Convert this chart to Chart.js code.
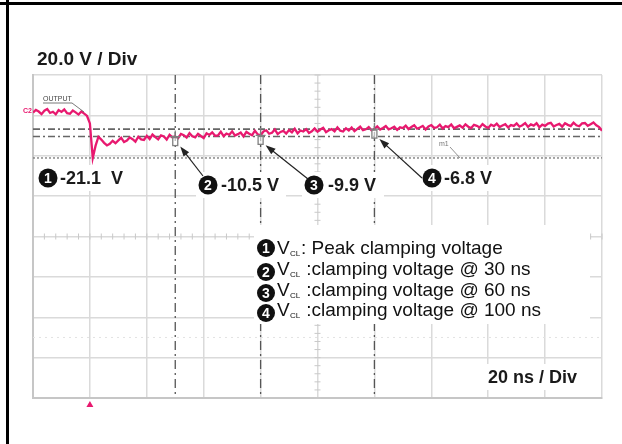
<!DOCTYPE html>
<html>
<head>
<meta charset="utf-8">
<script src="https://cdn.jsdelivr.net/npm/chart.js@4.4.0/dist/chart.umd.min.js"></script>
<style>
  html, body { margin: 0; padding: 0; background: #fff; }
  canvas { display: block; }
</style>
</head>
<body>
<canvas id="scope" width="622" height="444"></canvas>
<script>
// ── scope settings (20 ns / div, 20 V / div) ──
const timeMinNs = -20, timeMaxNs = 180, timeDivNs = 20;
const voltMin = -140, voltMax = 20, voltDiv = 20;

// OUTPUT trace, one sample per ns starting at -20 ns
const sampleStartNs = -20;
const sampleStepNs  = 1;
const outputVolts = [
  1.4, 2.7, 1.9, 0.6, 2.3, 3.1, 1.2, 1.8, 0.5, 2.6,
  1.7, 2.9, 1.1, 0.8, 2.4, 1.5, 0.4, 1.9, 0.9, -0.3,
  -4.0, -21.1, -15.0, -10.6, -12.0, -13.6, -14.9, -14.1, -12.6, -13.8,
  -12.4, -11.1, -13.2, -12.5, -10.9, -11.8, -13.0, -10.6, -11.9, -12.2,
  -10.1, -11.7, -9.5, -10.8, -11.9, -9.9, -10.4, -12.0, -9.6, -10.9,
  -10.5, -11.3, -9.2, -9.8, -11.0, -8.8, -10.4, -10.9, -9.1, -10.2,
  -11.2, -8.9, -9.7, -8.4, -10.1, -9.9, -8.1, -10.3, -9.0, -9.6,
  -7.9, -10.0, -9.3, -8.5, -10.4, -8.2, -9.1, -9.8, -7.6, -9.4,
  -9.9, -8.0, -7.4, -9.1, -8.6, -7.0, -9.3, -8.2, -7.7, -9.0,
  -7.3, -8.4, -6.6, -8.9, -7.5, -8.0, -6.8, -8.7, -7.9, -6.5,
  -8.1, -7.0, -6.2, -8.3, -7.4, -6.8, -7.9, -5.9, -7.6, -8.0,
  -6.4, -7.5, -6.0, -7.8, -6.7, -5.6, -7.3, -6.9, -5.8, -7.4,
  -6.8, -5.5, -7.0, -6.2, -5.3, -6.9, -6.4, -5.6, -7.2, -5.9,
  -6.3, -5.1, -6.8, -5.7, -4.9, -6.6, -6.0, -5.2, -7.0, -5.5,
  -4.8, -6.2, -5.9, -4.6, -6.5, -5.3, -5.8, -4.5, -6.4, -5.7,
  -5.0, -6.1, -4.4, -5.6, -6.3, -4.7, -5.2, -6.0, -4.3, -5.5,
  -6.2, -4.6, -5.3, -4.1, -5.8, -5.0, -4.4, -6.0, -4.8, -5.2,
  -4.0, -5.6, -4.9, -3.8, -5.7, -4.5, -5.1, -3.9, -5.9, -4.6,
  -5.2, -4.1, -3.7, -5.5, -4.8, -4.2, -5.6, -3.9, -4.7, -5.3,
  -3.6, -4.9, -5.4, -4.0, -3.8, -5.2, -4.4, -3.5, -4.9, -5.8,
  -7.6
];

// cursors / measurements
const peakVolts        = -21.1;
const cursorTimesNs    = [30, 60, 100];
const cursorVolts      = [-10.5, -9.9, -6.8];
const cursorLevelVolts = [-6.8, -10.5];
const otherRefVolts    = -110;
const triggerNs        = 0;
const measureTexts = ['-21.1  V', '-10.5 V', '-9.9 V', '-6.8 V'];
const legendTexts  = [': Peak clamping voltage', ' :clamping voltage @ 30 ns',
                      ' :clamping voltage @ 60 ns', ' :clamping voltage @ 100 ns'];

// ── layout only (pixels) ──
const FONT = '"Liberation Sans", Arial, sans-serif';
const labelPos = [
  { cx: 48,  cy: 178, tx: 60,  box: [36, 165, 96, 26] },
  { cx: 208, cy: 185, tx: 221, box: [196, 172, 90, 26] },
  { cx: 314, cy: 185, tx: 328, box: [302, 172, 82, 26] },
  { cx: 432, cy: 178, tx: 444, box: [420, 165, 80, 26] },
];
const arrowTails = [[203, 176], [308, 179], [422, 178]];
const legendRowsY = [248, 269, 290, 310];

const tracePoints = outputVolts.map((v, i) => ({ x: sampleStartNs + i * sampleStepNs, y: v }));

function circled(ctx, n, cx, cy, r) {
  ctx.beginPath();
  ctx.arc(cx, cy, r, 0, Math.PI * 2);
  ctx.fillStyle = '#111';
  ctx.fill();
  ctx.fillStyle = '#fff';
  ctx.font = 'bold ' + Math.round(r * 1.5) + 'px ' + FONT;
  ctx.textAlign = 'center';
  ctx.textBaseline = 'middle';
  ctx.fillText(String(n), cx, cy + 1);
}

function arrow(ctx, x1, y1, x2, y2) {
  const a = Math.atan2(y2 - y1, x2 - x1);
  ctx.strokeStyle = '#222';
  ctx.fillStyle = '#222';
  ctx.lineWidth = 1.2;
  ctx.setLineDash([]);
  ctx.beginPath();
  ctx.moveTo(x1, y1);
  ctx.lineTo(x2 - 6 * Math.cos(a), y2 - 6 * Math.sin(a));
  ctx.stroke();
  ctx.beginPath();
  ctx.moveTo(x2, y2);
  ctx.lineTo(x2 - 10 * Math.cos(a) + 3.5 * Math.sin(a), y2 - 10 * Math.sin(a) - 3.5 * Math.cos(a));
  ctx.lineTo(x2 - 10 * Math.cos(a) - 3.5 * Math.sin(a), y2 - 10 * Math.sin(a) + 3.5 * Math.cos(a));
  ctx.closePath();
  ctx.fill();
}

const scopeOverlay = {
  id: 'scopeOverlay',
  beforeDatasetsDraw(chart) {
    const { ctx, chartArea: ca, scales: { x, y } } = chart;
    ctx.save();
    // minor ticks on the centre axes
    const cx = x.getPixelForValue((timeMinNs + timeMaxNs) / 2);
    const cy = y.getPixelForValue((voltMin + voltMax) / 2);
    ctx.strokeStyle = '#c9c9c9';
    ctx.lineWidth = 1;
    for (let t = timeMinNs; t <= timeMaxNs; t += timeDivNs / 5) {
      const px = x.getPixelForValue(t);
      ctx.beginPath(); ctx.moveTo(px, cy - 3); ctx.lineTo(px, cy + 3); ctx.stroke();
    }
    for (let v = voltMin; v <= voltMax; v += voltDiv / 5) {
      const py = y.getPixelForValue(v);
      ctx.beginPath(); ctx.moveTo(cx - 3, py); ctx.lineTo(cx + 3, py); ctx.stroke();
    }
    // faint reference of the other channel
    ctx.strokeStyle = '#e2e2e2';
    ctx.setLineDash([2, 4]);
    let py = y.getPixelForValue(otherRefVolts);
    ctx.beginPath(); ctx.moveTo(ca.left, py); ctx.lineTo(ca.right, py); ctx.stroke();
    // peak cursor (dotted)
    ctx.strokeStyle = '#777';
    ctx.lineWidth = 1.3;
    ctx.setLineDash([2, 2]);
    py = y.getPixelForValue(peakVolts);
    ctx.beginPath(); ctx.moveTo(ca.left, py); ctx.lineTo(ca.right, py); ctx.stroke();
    // horizontal cursors (dash-dot)
    ctx.strokeStyle = '#666';
    ctx.lineWidth = 1.6;
    ctx.setLineDash([7, 3, 2, 3]);
    cursorLevelVolts.forEach(v => {
      const p = y.getPixelForValue(v);
      ctx.beginPath(); ctx.moveTo(ca.left, p); ctx.lineTo(ca.right, p); ctx.stroke();
    });
    // vertical cursors
    ctx.strokeStyle = '#555';
    ctx.lineWidth = 1.3;
    ctx.setLineDash([9, 4, 2, 4]);
    cursorTimesNs.forEach(t => {
      const p = x.getPixelForValue(t);
      ctx.beginPath(); ctx.moveTo(p, ca.top); ctx.lineTo(p, ca.bottom); ctx.stroke();
    });
    ctx.restore();
  },
  afterDatasetsDraw(chart) {
    const { ctx, chartArea: ca, scales: { x, y } } = chart;
    ctx.save();
    ctx.setLineDash([]);

    // cursor markers on the trace
    cursorTimesNs.forEach((t, i) => {
      const px = x.getPixelForValue(t), py = y.getPixelForValue(cursorVolts[i]);
      ctx.strokeStyle = '#808080';
      ctx.fillStyle = 'rgba(255,255,255,0.6)';
      ctx.lineWidth = 1.3;
      ctx.fillRect(px - 2.5, py + 1, 5, 8);
      ctx.strokeRect(px - 2.5, py + 1, 5, 8);
      ctx.beginPath();
      ctx.moveTo(px - 5, py); ctx.lineTo(px + 5, py);
      ctx.moveTo(px, py - 6); ctx.lineTo(px, py + 1);
      ctx.stroke();
    });

    // measurement labels
    labelPos.forEach((l, i) => {
      ctx.fillStyle = '#fff';
      ctx.fillRect(l.box[0], l.box[1], l.box[2], l.box[3]);
      circled(ctx, i + 1, l.cx, l.cy, 9.5);
      ctx.fillStyle = '#1a1a1a';
      ctx.font = 'bold 18px ' + FONT;
      ctx.textAlign = 'left';
      ctx.textBaseline = 'middle';
      ctx.fillText(measureTexts[i], l.tx, l.cy + 1);
    });

    // arrows from labels to cursor points
    arrowTails.forEach((tail, i) => {
      const hx = x.getPixelForValue(cursorTimesNs[i]) + 5;
      const hy = y.getPixelForValue(cursorVolts[i]) + 10;
      arrow(ctx, tail[0], tail[1], hx, hy);
    });

    // legend box
    ctx.fillStyle = '#fff';
    ctx.fillRect(254, 225, 336, 99);
    legendRowsY.forEach((ry, i) => {
      circled(ctx, i + 1, 266, ry + (i ? 3 : 0), 9);
      ctx.fillStyle = '#111';
      ctx.textAlign = 'left';
      ctx.textBaseline = 'alphabetic';
      ctx.font = '19px ' + FONT;
      ctx.fillText('V', 277, ry + 6);
      ctx.font = '8px ' + FONT;
      ctx.fillText('CL', 290, ry + 8);
      ctx.font = '19px ' + FONT;
      ctx.fillText(legendTexts[i], 301, ry + 6);
    });

    // time base label
    ctx.font = 'bold 18px ' + FONT;
    ctx.textAlign = 'right';
    ctx.textBaseline = 'middle';
    const w = ctx.measureText('20 ns / Div').width;
    ctx.fillStyle = '#fff';
    ctx.fillRect(577 - w - 4, 364, w + 8, 26);
    ctx.fillStyle = '#1a1a1a';
    ctx.fillText('20 ns / Div', 577, 378);

    // OUTPUT tag
    ctx.font = '7px ' + FONT;
    ctx.textAlign = 'left';
    ctx.textBaseline = 'alphabetic';
    ctx.fillStyle = '#444';
    ctx.fillText('OUTPUT', 43, 101);
    ctx.strokeStyle = '#555';
    ctx.lineWidth = 0.8;
    ctx.beginPath();
    ctx.moveTo(43, 103); ctx.lineTo(72, 103);
    ctx.lineTo(84, 112);
    ctx.stroke();

    // channel tag
    ctx.fillStyle = '#e8196f';
    ctx.font = 'bold 7px ' + FONT;
    ctx.fillText('C2', 23, 113);

    // m1 tag
    ctx.fillStyle = '#777';
    ctx.font = '7px ' + FONT;
    ctx.fillText('m1', 439, 146);
    ctx.strokeStyle = '#777';
    ctx.beginPath(); ctx.moveTo(450, 147); ctx.lineTo(460, 158); ctx.stroke();

    // trigger marker
    const tx = x.getPixelForValue(triggerNs);
    ctx.fillStyle = '#e8196f';
    ctx.beginPath();
    ctx.moveTo(tx, ca.bottom + 3);
    ctx.lineTo(tx + 3.5, ca.bottom + 9);
    ctx.lineTo(tx - 3.5, ca.bottom + 9);
    ctx.closePath();
    ctx.fill();

    // volts/div label and page frame
    ctx.fillStyle = '#1a1a1a';
    ctx.font = 'bold 19px ' + FONT;
    ctx.textAlign = 'left';
    ctx.fillText('20.0 V / Div', 37, 65);
    ctx.fillStyle = '#000';
    ctx.fillRect(0, 2, 622, 3);
    ctx.fillRect(6, 0, 3, 444);
    ctx.restore();
  }
};

new Chart(document.getElementById('scope'), {
  type: 'line',
  data: {
    datasets: [{
      label: 'OUTPUT',
      data: tracePoints,
      borderColor: '#e8196f',
      borderWidth: 2.3,
      pointRadius: 0,
      tension: 0,
      fill: false
    }]
  },
  options: {
    responsive: false,
    animation: false,
    devicePixelRatio: 1,
    layout: { padding: { left: 33, right: 20, top: 75, bottom: 46 } },
    plugins: { legend: { display: false }, tooltip: { enabled: false } },
    scales: {
      x: {
        type: 'linear',
        min: timeMinNs, max: timeMaxNs,
        ticks: { display: false, stepSize: timeDivNs },
        grid: { color: '#dadada', lineWidth: 1.5, drawTicks: false },
        border: { color: '#c6c6c6', width: 2 }
      },
      y: {
        min: voltMin, max: voltMax,
        ticks: { display: false, stepSize: voltDiv },
        grid: { color: '#dadada', lineWidth: 1.5, drawTicks: false },
        border: { color: '#c6c6c6', width: 2 }
      }
    }
  },
  plugins: [scopeOverlay]
});
</script>
</body>
</html>
